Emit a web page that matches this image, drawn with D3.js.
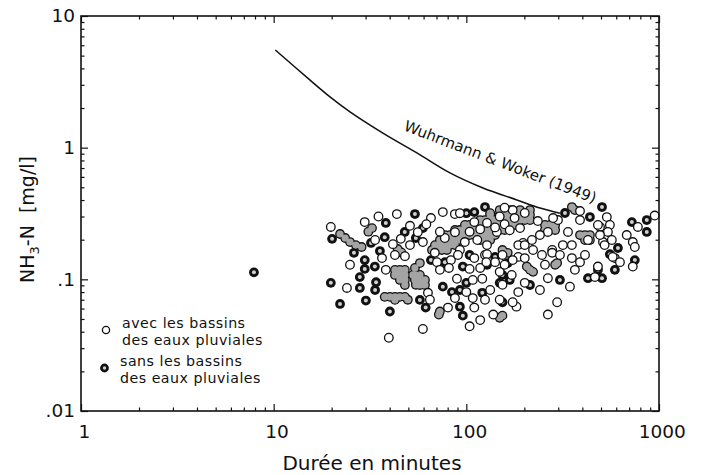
<!DOCTYPE html>
<html>
<head>
<meta charset="utf-8">
<script src="https://cdn.jsdelivr.net/npm/d3@7/dist/d3.min.js"></script>
<style>
  body { margin: 0; background: #fff; }
  svg text { font-family: "DejaVu Sans", "Liberation Sans", sans-serif; fill: #111; }
</style>
</head>
<body>
<svg id="chart" width="710" height="475"></svg>
<script>
// Axis ticks (log decades) and their labels
const xTicks = [1, 10, 100, 1000];
const xTickLabels = ["1", "10", "100", "1000"];
const yTicks = [0.01, 0.1, 1, 10];
const yTickLabels = [".01", ".1", "1", "10"];
const xMinorTicks = [2,3,4,5,6,7,8,9,20,30,40,50,60,70,80,90,200,300,400,500,600,700,800,900];
const yMinorTicks = [0.02,0.03,0.04,0.05,0.06,0.07,0.08,0.09,0.2,0.3,0.4,0.5,0.6,0.7,0.8,0.9,2,3,4,5,6,7,8,9];

// Wuhrmann & Woker (1949) limit curve: [duration min, NH3-N mg/l]
const limitCurve = [[10.2,5.52],[15.4,3.27],[19.6,2.43],[24.9,1.87],[36.9,1.29],[55.4,0.912],
  [82.2,0.643],[122,0.494],[183,0.401],[241,0.348],[306,0.318]];

// Events with stormwater basins: [duration min, NH3-N mg/l]
const avecPoints = [
  [19.8,0.250],[29.7,0.272],[43.6,0.313],[41.6,0.185],[45.7,0.203],[38.2,0.118],[24.0,0.086],
  [63.2,0.079],[75.5,0.324],[87.2,0.313],[65.5,0.292],[77.3,0.206],[98.2,0.192],[59.5,0.192],
  [68.6,0.159],[83.2,0.140],[70.4,0.135],[81.2,0.122],[89.4,0.101],[104,0.120],[118,0.122],
  [108,0.099],[121,0.101],[80.3,0.061],[108,0.072],[110,0.061],[118,0.049],[138,0.054],
  [104,0.044],[59.5,0.042],[114,0.199],[125,0.153],[144,0.229],[128,0.268],[39.6,0.036],
  [174,0.336],[190,0.245],[235,0.277],[265,0.229],[197,0.189],[219,0.199],[186,0.148],
  [247,0.153],[279,0.167],[299,0.282],[337,0.229],[353,0.182],[317,0.182],[389,0.282],
  [428,0.199],[353,0.145],[389,0.135],[482,0.125],[465,0.104],[494,0.250],[536,0.297],
  [556,0.259],[543,0.229],[512,0.192],[569,0.199],[590,0.145],[680,0.217],[731,0.192],
  [749,0.176],[731,0.125],[777,0.250],[950,0.305],[265,0.102],[345,0.088],[296,0.067],
  [265,0.054],[182,0.062],[201,0.094],[92.6,0.318],[92.6,0.167],[110,0.145],[128,0.182],
  [141,0.135],[149,0.114],[154,0.091],[133,0.083],[100,0.080],[125,0.070],[282,0.292],
  [241,0.217],[186,0.182],[201,0.182],[222,0.167],[279,0.159],[154,0.153],[174,0.140],
  [172,0.108],[186,0.080],[174,0.067],[522,0.182],[575,0.148],[482,0.259],[494,0.217],
  [128,0.155],[158,0.350],[201,0.319],[389,0.330],[87.3,0.228],[104,0.230],[118,0.240],
  [141,0.248],[158,0.262],[168,0.236],[178,0.292],[149,0.300],[110,0.272],[72.9,0.230],
  [56.0,0.228],[51.0,0.255],[62.0,0.262],[35.0,0.300],[48.0,0.150],[36.5,0.145],
  [64.7,0.070],[87.3,0.072],[72.9,0.118],[90.5,0.153],[127,0.135],[158,0.129],[201,0.145],
  [256,0.129],[306,0.153],[366,0.118],[413,0.153],[627,0.135],[241,0.083],[149,0.070],
  [42.6,0.153],[51.0,0.182],[33.6,0.199],[24.9,0.129]
];

// Events without stormwater basins: [duration min, NH3-N mg/l]
const sansPoints = [
  [7.9,0.113],[19.8,0.094],[22.1,0.065],[26.1,0.159],[20.1,0.203],[22.1,0.221],
  [23.5,0.206],[24.9,0.192],[26.7,0.182],[28.6,0.176],[32.0,0.189],[35.6,0.164],
  [37.7,0.209],[32.4,0.245],[38.2,0.268],[54.1,0.313],[47.9,0.229],[29.7,0.140],
  [29.7,0.120],[28.0,0.104],[28.0,0.086],[30.1,0.069],[40.1,0.057],[49.7,0.070],
  [61.5,0.061],[72.0,0.054],[92.6,0.062],[95.9,0.053],[75.5,0.088],[95.9,0.125],
  [100,0.094],[54.1,0.122],[57.4,0.133],[54.7,0.206],[110,0.324],[100,0.318],
  [125,0.354],[138,0.282],[141,0.148],[325,0.319],[353,0.354],[438,0.297],[506,0.354],
  [723,0.272],[864,0.282],[864,0.229],[612,0.173],[749,0.140],[428,0.102],[506,0.102],
  [296,0.133],[154,0.053],[154,0.167],[214,0.118],[133,0.318],[59.5,0.245],[149,0.336],
  [52.8,0.108],[54.7,0.091],[59.5,0.094],[84.2,0.080],[92.6,0.083],[72.9,0.057],
  [121,0.079],[149,0.094],[149,0.051],[128,0.129],[65.5,0.140],[154,0.282],[164,0.159],
  [164,0.133],[289,0.129],[222,0.114],[206,0.125],[154,0.108],[154,0.067],[366,0.336],
  [556,0.155],[482,0.118],[31.0,0.230],[44.0,0.170],[46.0,0.160],[33.5,0.125],[34.0,0.095],
  [77.4,0.135],[104,0.153],[168,0.0989],[214,0.0906],[306,0.0989],[590,0.118],[57.4,0.0698],
  [33.6,0.083],
  // dense group between 60 and 230 min
  [66.3,0.167],[70.4,0.167],[74.6,0.167],[79.3,0.167],
  [68.7,0.182],[72.9,0.182],[77.4,0.182],[82.2,0.182],[87.3,0.182],
  [72.9,0.199],[77.4,0.199],[82.2,0.199],[87.3,0.199],[92.6,0.199],[118,0.199],[125,0.199],[133,0.199],
  [77.4,0.217],[82.2,0.217],[87.3,0.217],[92.6,0.217],[98.3,0.217],[104,0.217],[110.5,0.217],
  [118,0.217],[125,0.217],[133,0.217],[141,0.217],
  [87.3,0.237],[92.6,0.237],[98.3,0.237],[104,0.237],[110.5,0.237],[118,0.237],[125,0.237],
  [133,0.237],[141,0.237],[149,0.237],[158,0.237],
  [98.3,0.259],[104,0.259],[118,0.259],[125,0.259],[133,0.259],[141,0.259],[149,0.259],
  [158,0.259],[168,0.259],[178,0.259],
  [118,0.282],[125,0.282],[133,0.282],[141,0.282],[149,0.282],[158,0.282],[168,0.282],
  [178,0.282],[190,0.282],[201,0.282],[214,0.282],
  [133,0.308],[149,0.308],[158,0.308],[168,0.308],[178,0.308],[190,0.308],[201,0.308],[214,0.308],
  [158,0.336],[168,0.336],[190,0.336],[214,0.336],
  // smaller groups
  [256,0.259],[272,0.259],[289,0.259],[256,0.237],[272,0.237],[289,0.237],
  [389,0.217],[413,0.217],[438,0.217],[413,0.199],[438,0.199],
  [42.6,0.118],[45.2,0.118],[48.0,0.118],[42.6,0.108],[45.2,0.108],[48.0,0.108],
  [45.2,0.0989],[48.0,0.0989],[48.0,0.0906],
  [37.7,0.0736],[40.1,0.0736],[42.6,0.0736],[45.2,0.0736],[48.0,0.0736],[42.6,0.0698],
  [54.1,0.108],[57.4,0.108],[54.1,0.0989],[57.4,0.0989],[61.0,0.0989],[57.4,0.0906],[61.0,0.0906]
];

const legendItems = [
  { kind: "avec", lines: ["avec les bassins", "des eaux pluviales"] },
  { kind: "sans", lines: ["sans les bassins", "des eaux pluviales"] }
];

const svg = d3.select("#chart");
const plot = { left: 81, right: 659, top: 16, bottom: 411 };

const x = d3.scaleLog().domain([1, 1000]).range([plot.left, plot.right]);
const y = d3.scaleLog().domain([0.01, 10]).range([plot.bottom, plot.top]);

const tickFont = 18.5;

// Axes: major ticks with labels, minor ticks, all pointing inward
function styleAxis(g) {
  g.select(".domain").remove();
  g.selectAll(".tick line").attr("stroke", "#111").attr("stroke-width", 1.2);
  g.selectAll(".tick text").attr("fill", "#111").style("font-size", tickFont + "px")
    .style("font-family", "'DejaVu Sans', sans-serif");
}

svg.append("g").attr("transform", `translate(0,${plot.bottom})`)
  .call(d3.axisBottom(x).tickValues(xTicks).tickSize(-7).tickPadding(14)
    .tickFormat((d, i) => xTickLabels[i]))
  .call(styleAxis)
  .call(g => g.selectAll(".tick text").attr("dx", "0.15em"));
svg.append("g").attr("transform", `translate(0,${plot.bottom})`)
  .call(d3.axisBottom(x).tickValues(xMinorTicks).tickSize(-3.5).tickFormat(""))
  .call(styleAxis);
svg.append("g").attr("transform", `translate(0,${plot.top})`)
  .call(d3.axisTop(x).tickValues(xTicks).tickSize(-7).tickFormat(""))
  .call(styleAxis);
svg.append("g").attr("transform", `translate(0,${plot.top})`)
  .call(d3.axisTop(x).tickValues(xMinorTicks).tickSize(-3.5).tickFormat(""))
  .call(styleAxis);

svg.append("g").attr("transform", `translate(${plot.left},0)`)
  .call(d3.axisLeft(y).tickValues(yTicks).tickSize(-7).tickPadding(6)
    .tickFormat((d, i) => yTickLabels[i]))
  .call(styleAxis);
svg.append("g").attr("transform", `translate(${plot.left},0)`)
  .call(d3.axisLeft(y).tickValues(yMinorTicks).tickSize(-3.5).tickFormat(""))
  .call(styleAxis);
svg.append("g").attr("transform", `translate(${plot.right},0)`)
  .call(d3.axisRight(y).tickValues(yTicks).tickSize(-7).tickFormat(""))
  .call(styleAxis);
svg.append("g").attr("transform", `translate(${plot.right},0)`)
  .call(d3.axisRight(y).tickValues(yMinorTicks).tickSize(-3.5).tickFormat(""))
  .call(styleAxis);

// Limit curve
const line = d3.line().x(d => x(d[0])).y(d => y(d[1])).curve(d3.curveCatmullRom);
svg.append("path").datum(limitCurve)
  .attr("d", line).attr("fill", "none").attr("stroke", "#111").attr("stroke-width", 1.5);

// "sans" markers: a dark outline layer under a grey fill layer, so that
// overlapping markers merge into grey patches with a shared dark border.
// Isolated markers keep a thick dark ring with a small light core.
const sansPx = sansPoints.map(d => [x(d[0]), y(d[1])]);
const crowded = sansPx.map((p, i) => sansPx.some((q, j) =>
  j !== i && Math.hypot(p[0] - q[0], p[1] - q[1]) < 7));
const sansG = svg.append("g");
sansG.selectAll("circle.outer").data(sansPx).join("circle")
  .attr("class", "outer")
  .attr("cx", d => d[0]).attr("cy", d => d[1])
  .attr("r", 4.9).attr("fill", "#111");
sansG.selectAll("circle.inner").data(sansPx).join("circle")
  .attr("class", "inner")
  .attr("cx", d => d[0]).attr("cy", d => d[1])
  .attr("r", (d, i) => crowded[i] ? 3.6 : 2.0)
  .attr("fill", (d, i) => crowded[i] ? "#a4a4a4" : "#d0d0d0");

// "avec" markers: open circles
svg.append("g").selectAll("circle").data(avecPoints).join("circle")
  .attr("cx", d => x(d[0])).attr("cy", d => y(d[1]))
  .attr("r", 4.3).attr("fill", "#fff").attr("stroke", "#111").attr("stroke-width", 1.3);

// Frame
svg.append("rect")
  .attr("x", plot.left).attr("y", plot.top)
  .attr("width", plot.right - plot.left).attr("height", plot.bottom - plot.top)
  .attr("fill", "none").attr("stroke", "#111").attr("stroke-width", 1.6);

// Curve label
svg.append("text")
  .attr("transform", `translate(${x(46.9)},${y(1.36)}) rotate(21)`)
  .style("font-size", "15px")
  .text("Wuhrmann & Woker (1949)");

// Axis titles
svg.append("text")
  .attr("x", (plot.left + plot.right) / 2 + 2).attr("y", 470)
  .attr("text-anchor", "middle").style("font-size", "20px")
  .text("Durée en minutes");

const yTitle = svg.append("text")
  .attr("transform", `translate(34,${(plot.top + plot.bottom) / 2 + 6}) rotate(-90)`)
  .attr("text-anchor", "middle").style("font-size", "19px");
yTitle.append("tspan").text("NH");
yTitle.append("tspan").attr("dy", 5).style("font-size", "13px").text("3");
yTitle.append("tspan").attr("dy", -5).text("-N\u00a0\u00a0[mg/l]");

// Legend: marker plus two separate text lines per entry
const legend = svg.append("g");
const legendY = [330, 368];
legendItems.forEach((item, i) => {
  const cy = legendY[i];
  if (item.kind === "avec") {
    legend.append("circle").attr("cx", 106).attr("cy", cy).attr("r", 3.6)
      .attr("fill", "#fff").attr("stroke", "#111").attr("stroke-width", 1.3);
  } else {
    legend.append("circle").attr("cx", 104.5).attr("cy", cy).attr("r", 4.4).attr("fill", "#111");
    legend.append("circle").attr("cx", 104.5).attr("cy", cy).attr("r", 1.7).attr("fill", "#d0d0d0");
  }
  const tx = i === 0 ? 122 : 120;
  item.lines.forEach((ln, j) => {
    legend.append("text").attr("x", tx).attr("y", cy - 2 + j * 17)
      .style("font-size", "14.2px").style("letter-spacing", "0.5px").text(ln);
  });
});
</script>
</body>
</html>
